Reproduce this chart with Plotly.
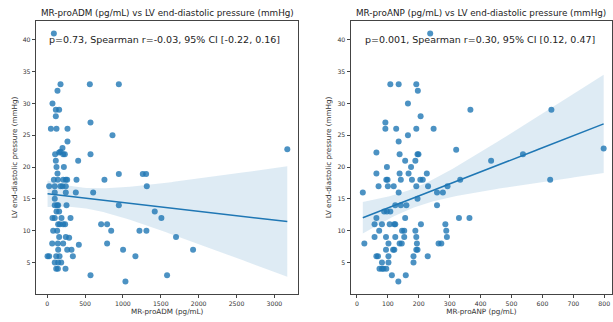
import numpy as np
import plotly.graph_objects as go

# ---- Data ----
adm_x = [88, 176, 563, 946, 136, 70, 114, 158, 114, 572, 49, 123, 268, 862, 268, 202,
         105, 158, 176, 211, 233, 572, 3170, 114, 409, 123, 220, 136, 946, 1262, 1306,
         88, 141, 211, 246, 264, 387, 756, 26, 100, 176, 202, 246, 1315, 100, 246, 378, 607,
         100, 100, 132, 145, 255, 946, 123, 158, 1420, 70, 100, 189, 308, 1508,
         145, 167, 211, 237, 712, 791, 79, 132, 845, 1218, 1310, 158, 246, 290, 1701,
         66, 141, 211, 418, 791, 145, 264, 321, 1002, 1926, 5, 26, 119, 163, 339, 1165,
         100, 145, 185, 119, 141, 242, 572, 1583, 1033]
adm_y = [41, 33, 33, 33, 32, 30, 29, 29, 28, 27, 26, 26, 26, 25, 24, 23,
         22, 22.3, 22.4, 22, 22, 22, 22.8, 21, 21, 20, 20, 19, 18.9, 18.9, 18.9,
         18, 18, 18, 18, 18, 18, 18, 17, 17, 17, 17, 17, 17, 16, 16, 16, 16,
         15, 14, 14, 14, 14, 14, 13, 13, 13, 12, 12, 12, 12, 12,
         11, 11, 11, 11, 11, 11, 10, 10, 10, 10, 10, 9, 9, 8.9, 9,
         8, 8, 8, 7.8, 8, 7, 7, 7, 7, 7, 6, 6, 6, 6, 6, 6,
         5, 5, 5, 4, 4, 4, 3, 3, 2]

anp_x = [237, 108, 135, 192, 197, 165, 367, 629, 206, 92, 92, 127, 192, 248, 165, 135,
         63, 138, 196, 199, 321, 537, 798, 156, 189, 434, 97, 175, 63, 138, 167, 226,
         95, 99, 142, 178, 205, 213, 334, 625, 70, 100, 119, 192, 230, 293,
         19, 135, 259, 278, 196, 124, 142, 160, 259, 88, 97, 108, 63, 156, 330, 364,
         57, 81, 106, 121, 124, 207, 286, 72, 146, 153, 189, 289,
         57, 94, 124, 153, 192, 291, 24, 102, 138, 145, 194, 264, 273,
         94, 117, 121, 192, 196, 63, 68, 102, 183, 229, 81, 102, 183,
         73, 81, 86, 95, 113, 158, 134]
anp_y = [41, 33, 33, 33, 32, 30, 29, 29, 28, 27, 26, 26, 26, 26, 25, 24,
         22.3, 22, 22, 22, 22.7, 22, 22.9, 21, 21, 21, 20, 20, 19, 19, 19, 19,
         18, 18, 18, 18, 18, 18, 18, 18, 17, 17, 17, 17, 17, 17,
         16, 16, 16, 16, 15, 14, 14, 14, 14, 13, 13, 13, 12, 12, 12, 12,
         11, 11, 11, 11, 11, 11, 11, 10, 10, 10, 10, 10,
         9, 9, 9, 9, 9, 9, 8, 8, 8, 8, 8, 8, 8,
         7, 7, 7, 7, 7, 6, 6, 6, 6, 6, 5, 5, 5,
         4, 4, 4, 4, 3, 3, 2]

titles = ["MR-proADM (pg/mL) vs LV end-diastolic pressure (mmHg)",
          "MR-proANP (pg/mL) vs LV end-diastolic pressure (mmHg)"]
stats_text = ["p=0.73, Spearman r=-0.03, 95% CI [-0.22, 0.16]",
              "p=0.001, Spearman r=0.30, 95% CI [0.12, 0.47]"]
x_titles = ["MR-proADM (pg/mL)", "MR-proANP (pg/mL)"]
y_title = "LV end-diastolic pressure (mmHg)"

BLUE = "#1f77b4"
FONT = "DejaVu Sans"


def fit_with_ci(x, y, n_grid=100):
    x = np.asarray(x, float)
    y = np.asarray(y, float)
    n = len(x)
    b, a = np.polyfit(x, y, 1)
    xg = np.linspace(x.min(), x.max(), n_grid)
    yg = a + b * xg
    resid = y - (a + b * x)
    s = np.sqrt(np.sum(resid ** 2) / (n - 2))
    sxx = np.sum((x - x.mean()) ** 2)
    se = s * np.sqrt(1.0 / n + (xg - x.mean()) ** 2 / sxx)
    t = 1.98
    return xg, yg, yg - t * se, yg + t * se


fig = go.Figure()
datasets = [(adm_x, adm_y, "x", "y"), (anp_x, anp_y, "x2", "y2")]
for xs, ys, xa, ya in datasets:
    xg, yg, lo, hi = fit_with_ci(xs, ys)
    fig.add_trace(go.Scatter(x=xs, y=ys, mode="markers", xaxis=xa, yaxis=ya,
                             marker=dict(color=BLUE, size=6, opacity=0.8, line=dict(width=0)),
                             showlegend=False, hoverinfo="skip"))
    fig.add_trace(go.Scatter(x=xg, y=hi, mode="lines", xaxis=xa, yaxis=ya,
                             line=dict(width=0), showlegend=False, hoverinfo="skip"))
    fig.add_trace(go.Scatter(x=xg, y=lo, mode="lines", xaxis=xa, yaxis=ya,
                             line=dict(width=0), fill="tonexty",
                             fillcolor="rgba(31,119,180,0.15)",
                             showlegend=False, hoverinfo="skip"))
    fig.add_trace(go.Scatter(x=xg, y=yg, mode="lines", xaxis=xa, yaxis=ya,
                             line=dict(color=BLUE, width=1.5), showlegend=False,
                             hoverinfo="skip"))

W, H = 613, 322
ML, MR, MT, MB = 35.5, 0, 21, 28
PW = W - ML - MR


def dom(a, b):
    return [max(0.0, (a - ML) / PW), min(1.0, (b - ML) / PW)]


axis_common = dict(showline=True, mirror=True, linecolor="#444", linewidth=0.8,
                   ticks="outside", ticklen=3.5, tickwidth=0.8, tickcolor="#444",
                   showgrid=False, zeroline=False, automargin=False,
                   tickfont=dict(family=FONT, size=6.2, color="#333"))

yvals = [5, 10, 15, 20, 25, 30, 35, 40]
fig.update_layout(
    width=W, height=H,
    margin=dict(l=ML, r=MR, t=MT, b=MB, autoexpand=False),
    paper_bgcolor="white", plot_bgcolor="white",
    font=dict(family=FONT, color="#333"),
    xaxis=dict(domain=dom(35.7, 298), range=[-145, 3315],
               tickvals=[0, 500, 1000, 1500, 2000, 2500, 3000],
               title=dict(text=x_titles[0], font=dict(size=7.2, family=FONT, color="#333"),
                          standoff=3),
               anchor="y", **axis_common),
    yaxis=dict(domain=[0, 1], range=[0.05, 42.95], tickvals=yvals,
               title=dict(text=y_title, font=dict(size=7.2, family=FONT, color="#333"),
                          standoff=4),
               anchor="x", **axis_common),
    xaxis2=dict(domain=dom(350.7, 612), range=[-19.4, 825],
                tickvals=[0, 100, 200, 300, 400, 500, 600, 700, 800],
                title=dict(text=x_titles[1], font=dict(size=7.2, family=FONT, color="#333"),
                           standoff=3),
                anchor="y2", **axis_common),
    yaxis2=dict(domain=[0, 1], range=[0.05, 42.95], tickvals=yvals,
                title=dict(text=y_title, font=dict(size=7.2, family=FONT, color="#333"),
                           standoff=4),
                anchor="x2", **axis_common),
)

for i, (xd, xs) in enumerate([("x domain", 0.043), ("x2 domain", 0.047)]):
    yref = "y" if i == 0 else "y2"
    fig.add_annotation(text=stats_text[i], xref=xd, x=xs, xanchor="left",
                       yref=yref, y=40, yanchor="middle", showarrow=False,
                       font=dict(family=FONT, size=9.5, color="#222"))
    fig.add_annotation(text=titles[i], xref=xd, x=0.5, xanchor="center",
                       yref="paper", y=1 + (MT - 13) / (H - MT - MB), yanchor="middle",
                       showarrow=False, font=dict(family=FONT, size=8.8, color="#222"))

fig.write_html("out.html", config={"displayModeBar": False},
               post_script="document.body.style.margin='0px';document.body.style.padding='0px';")
